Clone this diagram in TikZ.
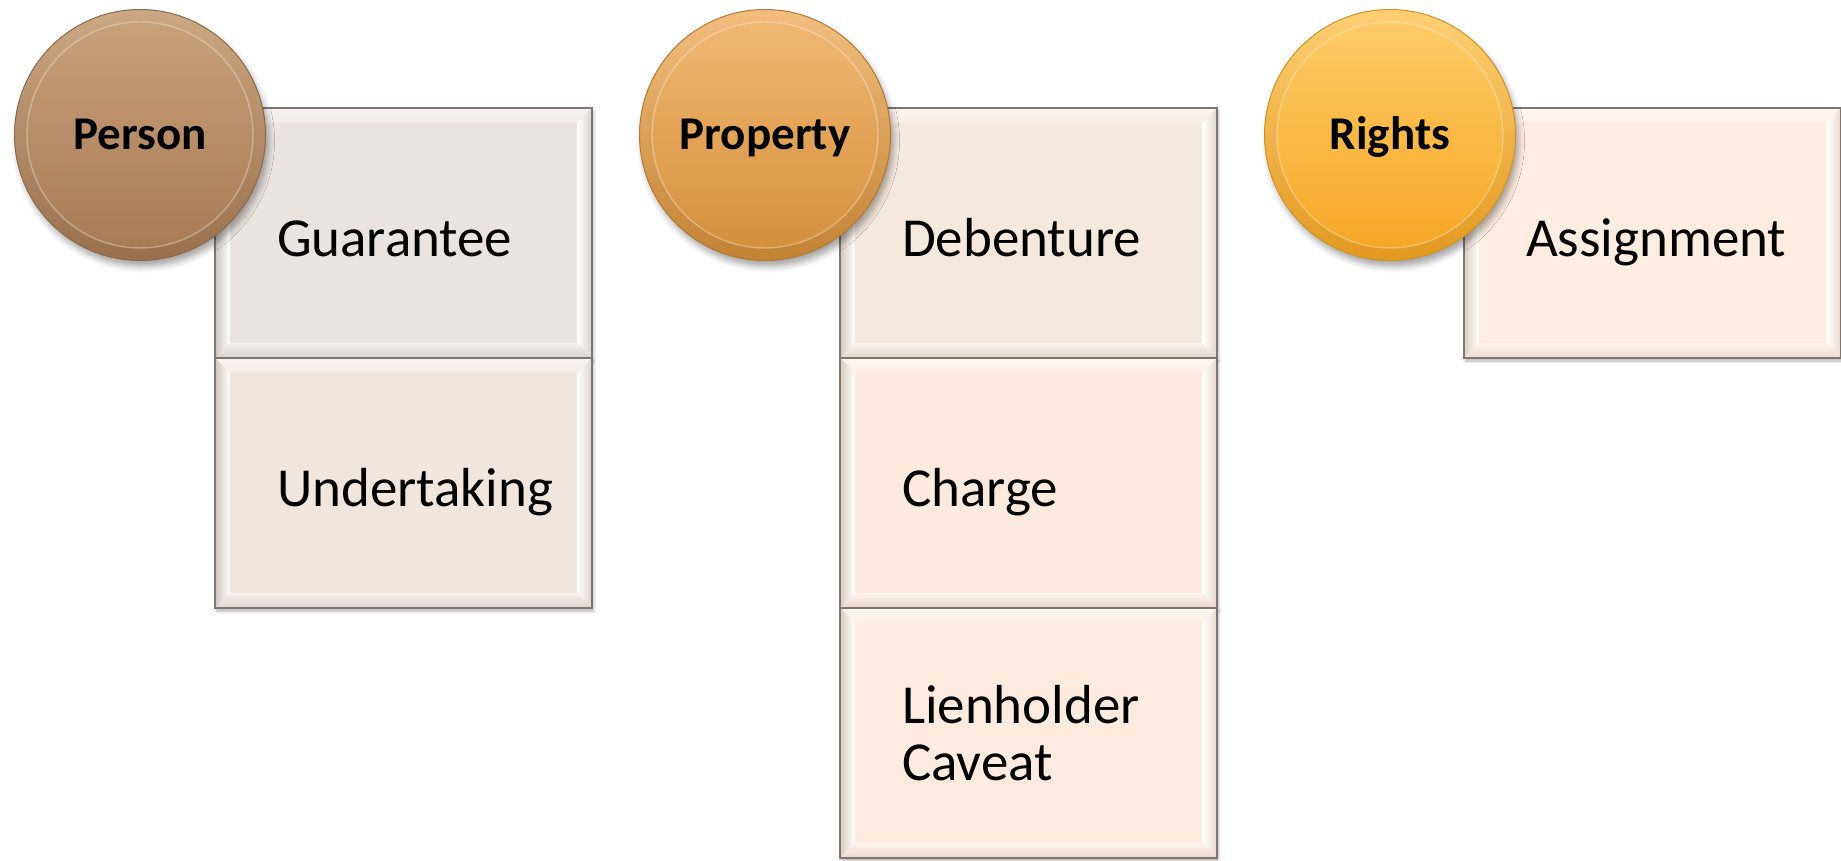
\documentclass[tikz,border=0pt]{standalone}
\usepackage{fontspec}
\setmainfont{Carlito}
\usetikzlibrary{calc,shadows.blur}

% panel fills
\definecolor{fillA}{HTML}{EAE4E0}
\definecolor{fillB}{HTML}{F0E6DE}
\definecolor{fillC}{HTML}{F5E8DD}
\definecolor{fillD}{HTML}{FCEADF}
\definecolor{fillE}{HTML}{FDEBDF}
\definecolor{fillF}{HTML}{FEEDE0}
\definecolor{panelline}{HTML}{7F7671}
% disc colours: top, bottom, rim
\definecolor{perTop}{HTML}{C9A27C}
\definecolor{perBot}{HTML}{A67A55}
\definecolor{perRim}{HTML}{8E6A4A}
\definecolor{proTop}{HTML}{F2B976}
\definecolor{proBot}{HTML}{D48E3A}
\definecolor{proRim}{HTML}{B47A34}
\definecolor{rigTop}{HTML}{FFCC6A}
\definecolor{rigBot}{HTML}{F5A623}
\definecolor{rigRim}{HTML}{CF9326}

\tikzset{
  disc/.style n args={3}{circle, minimum size=251pt, inner sep=0pt,
    text height=30pt, text depth=0pt,
    font=\fontsize{47}{56}\selectfont\bfseries,
    top color=#1!94!white, bottom color=#2!92!black, draw=#3, line width=1pt,
    blur shadow={shadow xshift=3pt, shadow yshift=-6pt, shadow blur radius=6pt, shadow opacity=35},
    path picture={
      \shade[top color=#1, bottom color=#2]
        (path picture bounding box.center) circle[radius=113pt];
      \draw[white, opacity=.3, line width=1.4pt]
        (path picture bounding box.center) circle[radius=113pt];
    }},
  panel/.style={rectangle, minimum width=377pt, minimum height=250pt,
    inner sep=0pt, fill=#1,
    blur shadow={shadow xshift=1.5pt, shadow yshift=-3pt, shadow blur radius=3pt, shadow opacity=30}},
  lbl/.style={font=\fontsize{55}{57}\selectfont, inner sep=0pt, align=left},
}

% bevelled rim of a panel node
\newcommand\panelbevel[2]{%
  \coordinate (#1-inw) at ($(#1.north west)+(15,-15)$);
  \coordinate (#1-ine) at ($(#1.north east)+(-15,-15)$);
  \coordinate (#1-ise) at ($(#1.south east)+(-15,15)$);
  \coordinate (#1-isw) at ($(#1.south west)+(15,15)$);
  \shade[top color=#2!45!white, bottom color=#2!75!white]
    (#1.north west) -- (#1.north east) -- (#1-ine) -- (#1-inw) -- cycle;
  \shade[left color=#2!86!black, right color=white]
    (#1.north west) -- (#1-inw) -- (#1-isw) -- (#1.south west) -- cycle;
  \shade[left color=white, right color=#2!92!black]
    (#1.north east) -- (#1.south east) -- (#1-ise) -- (#1-ine) -- cycle;
  \shade[top color=#2!55!white, bottom color=#2!92!black]
    (#1.south west) -- (#1-isw) -- (#1-ise) -- (#1.south east) -- cycle;
  \draw[panelline, line width=1.5pt] (#1.north west) rectangle (#1.south east);
}

\begin{document}
\begin{tikzpicture}[x=1pt, y=1pt]
\useasboundingbox (0,0) rectangle (1841,-861);

% ---- Person column
\node[panel=fillA] (b11) at (403.5,-233) {};
\panelbevel{b11}{fillA}
\node[panel=fillB] (b12) at (403.5,-483) {};
\panelbevel{b12}{fillB}
\node[lbl, anchor=base west] (t11) at ($(b11.west)+(62,-23)$) {Guarantee};
\node[lbl, anchor=base west] (t12) at ($(b12.west)+(62,-23)$) {Undertaking};
\node[disc={perTop}{perBot}{perRim}] (c1) at (140,-135) {Person};

% ---- Property column
\node[panel=fillC] (b21) at (1028.5,-233) {};
\panelbevel{b21}{fillC}
\node[panel=fillD] (b22) at (1028.5,-483) {};
\panelbevel{b22}{fillD}
\node[panel=fillE] (b23) at (1028.5,-733) {};
\panelbevel{b23}{fillE}
\node[lbl, anchor=base west] (t21) at ($(b21.west)+(62,-23)$) {Debenture};
\node[lbl, anchor=base west] (t22) at ($(b22.west)+(62,-23)$) {Charge};
\node[lbl, anchor=west] (t23) at ($(b23.west)+(62,0)$) {Lienholder\\Caveat};
\node[disc={proTop}{proBot}{proRim}] (c2) at (765,-135) {Property};

% ---- Rights column
\node[panel=fillF] (b31) at (1652.5,-233) {};
\panelbevel{b31}{fillF}
\node[lbl, anchor=base west] (t31) at ($(b31.west)+(62,-23)$) {Assignment};
\node[disc={rigTop}{rigBot}{rigRim}] (c3) at (1390,-135) {Rights};
\end{tikzpicture}
\end{document}
